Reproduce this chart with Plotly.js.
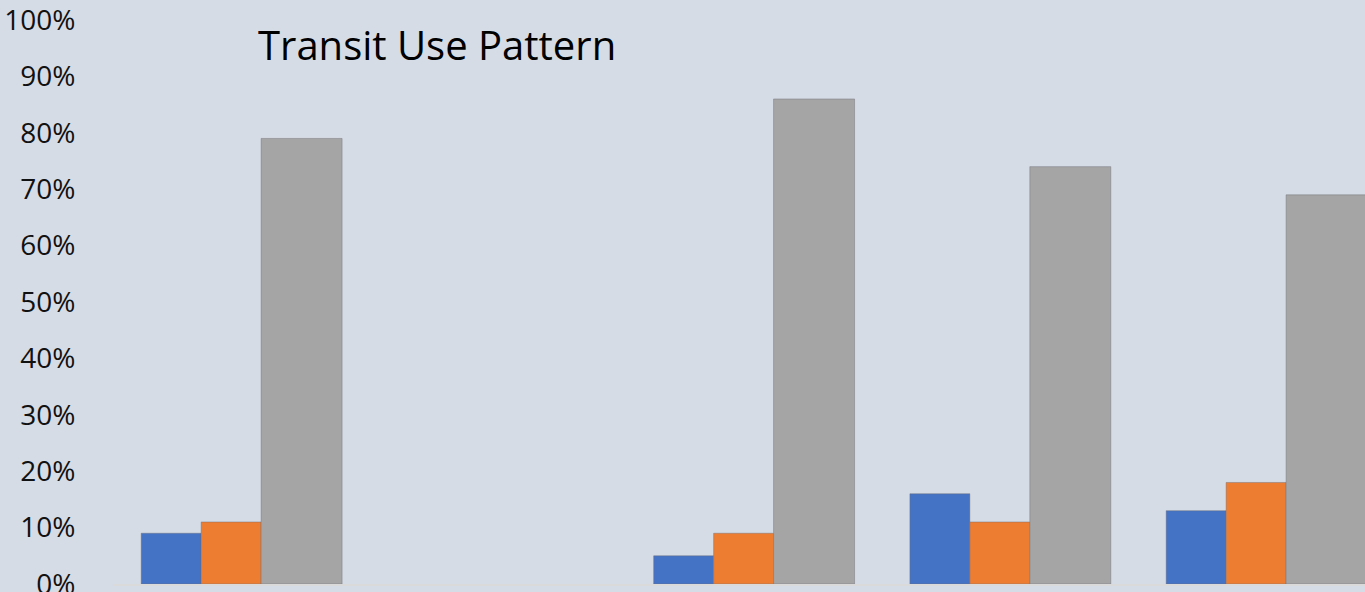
<!DOCTYPE html>
<html>
<head>
<meta charset="utf-8">
<script src="https://cdn.plot.ly/plotly-3.0.1.min.js"></script>
<style>html,body{margin:0;padding:0;background:#D6DCE5;}#chart{width:1365px;height:592px;}</style>
</head>
<body>
<div id="chart"></div>
<script>
var categories = ["Group 1", "Group 2", "Group 3", "Group 4", "Group 5"];
var seriesNames = ["Series 1", "Series 2", "Series 3"];
var series1 = [0.09, null, 0.05, 0.16, 0.13];
var series2 = [0.11, null, 0.09, 0.11, 0.18];
var series3 = [0.79, null, 0.86, 0.74, 0.69];
var yTickVals = [0, 0.1, 0.2, 0.3, 0.4, 0.5, 0.6, 0.7, 0.8, 0.9, 1.0];
var yTickText = ["0%", "10%", "20%", "30%", "40%", "50%", "60%", "70%", "80%", "90%", "100%"];
var titleText = "Transit Use Pattern";

var xIdx = categories.map(function(_, i){ return i; });
var edge = {color: "rgba(110,110,120,0.45)", width: 1};

var traces = [
  {type: "bar", name: seriesNames[0], x: xIdx, y: series1, width: 0.234, offset: -0.39,
   marker: {color: "#4472C4", line: edge}},
  {type: "bar", name: seriesNames[1], x: xIdx, y: series2, width: 0.234, offset: -0.156,
   marker: {color: "#ED7D31", line: edge}},
  {type: "bar", name: seriesNames[2], x: xIdx, y: series3, width: 0.316, offset: 0.078,
   marker: {color: "#A5A5A5", line: edge}}
];

var layout = {
  width: 1365, height: 592,
  paper_bgcolor: "#D6DCE5", plot_bgcolor: "#D6DCE5",
  margin: {l: 113, r: 0, t: 20, b: 8, pad: 0},
  barmode: "overlay",
  showlegend: false,
  font: {family: "Open Sans, sans-serif", color: "#000000"},
  title: {text: titleText, font: {size: 40, color: "#000000", family: "Open Sans, sans-serif"},
          x: 258/1365, xanchor: "left", xref: "container",
          y: 1 - 46/592, yanchor: "middle", yref: "container"},
  xaxis: {range: [-0.5, 4.386], tickvals: xIdx, ticktext: categories, showticklabels: false,
          showgrid: false, zeroline: false, showline: true, linecolor: "#DADADA", linewidth: 2,
          ticks: ""},
  yaxis: {range: [0, 1], tickvals: yTickVals, ticktext: yTickText, showgrid: false, zeroline: false,
          showline: false, ticks: "outside", ticklen: 31, tickcolor: "rgba(0,0,0,0)",
          ticklabeloverflow: "allow",
          tickfont: {size: 28, color: "#111111", family: "Open Sans, sans-serif"}}
};

Plotly.newPlot("chart", traces, layout, {displayModeBar: false, staticPlot: true});
</script>
</body>
</html>
